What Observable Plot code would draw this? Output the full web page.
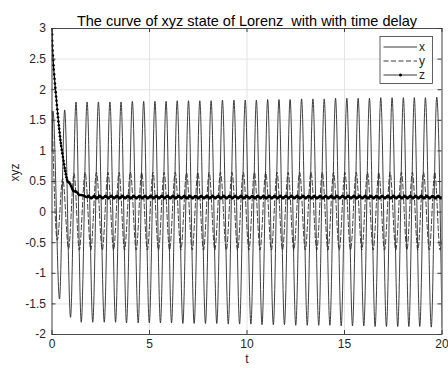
<!DOCTYPE html>
<html><head><meta charset="utf-8">
<script src="https://cdn.jsdelivr.net/npm/d3@7"></script>
<script src="https://cdn.jsdelivr.net/npm/@observablehq/plot@0.6"></script>
<style>body{margin:0;background:#fff}</style>
</head><body><div id="chart"></div>
<script>
const titleText = "The curve of xyz state of Lorenz  with with time delay";
const xLabel = "t";
const yLabel = "xyz";
const xTicks = [0, 5, 10, 15, 20];
const yTicks = [-2, -1.5, -1, -0.5, 0, 0.5, 1, 1.5, 2, 2.5, 3];
const seriesNames = ["x", "y", "z"];

// x(t): turning points [t, value]
const xSeries = [[0,1.0],[0.05,1.65],[0.385,-1.42],[0.65,1.67],[0.95,-1.72],[1.23,1.80],[1.50,-1.80],[1.80,1.80],[2.09,-1.80],[2.38,1.80],[2.68,-1.80],[2.97,1.80],[3.26,-1.80],[3.54,1.80],[3.82,-1.81],[4.12,1.81],[4.42,-1.81],[4.70,1.81],[4.99,-1.81],[5.28,1.81],[5.56,-1.81],[5.85,1.81],[6.13,-1.81],[6.42,1.82],[6.71,-1.82],[7.00,1.82],[7.29,-1.82],[7.58,1.82],[7.87,-1.82],[8.16,1.82],[8.45,-1.82],[8.74,1.83],[9.04,-1.83],[9.33,1.83],[9.62,-1.83],[9.91,1.83],[10.20,-1.83],[10.48,1.83],[10.77,-1.84],[11.06,1.84],[11.35,-1.84],[11.64,1.84],[11.92,-1.84],[12.21,1.84],[12.50,-1.85],[12.80,1.85],[13.09,-1.85],[13.38,1.85],[13.68,-1.85],[13.96,1.85],[14.25,-1.85],[14.54,1.86],[14.83,-1.86],[15.12,1.86],[15.41,-1.86],[15.70,1.86],[15.99,-1.86],[16.28,1.86],[16.57,-1.87],[16.86,1.87],[17.15,-1.87],[17.44,1.87],[17.73,-1.87],[18.02,1.87],[18.30,-1.87],[18.58,1.87],[18.86,-1.87],[19.15,1.87],[19.45,-1.88],[19.73,1.88],[20.00,-1.88]];

// y(t): turning points [t, value]
const ySeries = [[0,1.65],[0.27,-0.46],[0.55,0.55],[0.85,-0.60],[1.13,0.63],[1.40,-0.62],[1.70,0.65],[1.99,-0.62],[2.28,0.65],[2.58,-0.62],[2.87,0.65],[3.16,-0.62],[3.44,0.65],[3.72,-0.62],[4.02,0.65],[4.32,-0.62],[4.60,0.65],[4.89,-0.62],[5.18,0.65],[5.46,-0.62],[5.75,0.65],[6.03,-0.62],[6.32,0.65],[6.61,-0.62],[6.90,0.65],[7.19,-0.62],[7.48,0.65],[7.77,-0.62],[8.06,0.65],[8.35,-0.62],[8.64,0.65],[8.94,-0.62],[9.23,0.65],[9.52,-0.62],[9.81,0.65],[10.10,-0.62],[10.38,0.65],[10.67,-0.62],[10.96,0.65],[11.25,-0.62],[11.54,0.65],[11.82,-0.62],[12.11,0.65],[12.40,-0.62],[12.70,0.65],[12.99,-0.62],[13.28,0.65],[13.58,-0.62],[13.86,0.65],[14.15,-0.62],[14.44,0.65],[14.73,-0.62],[15.02,0.65],[15.31,-0.62],[15.60,0.65],[15.89,-0.62],[16.18,0.65],[16.47,-0.62],[16.76,0.65],[17.05,-0.62],[17.34,0.65],[17.63,-0.62],[17.92,0.65],[18.20,-0.62],[18.48,0.65],[18.76,-0.62],[19.05,0.65],[19.35,-0.62],[19.63,0.65],[19.90,-0.62],[20.00,-0.45]];

// z(t): initial decay [t, value]
const zTransient = [[0,3.00],[0.005,2.90],[0.01,2.80],[0.02,2.72],[0.03,2.64],[0.045,2.56],[0.06,2.48],[0.075,2.40],[0.09,2.33],[0.11,2.25],[0.13,2.18],[0.15,2.10],[0.17,2.03],[0.19,1.96],[0.21,1.89],[0.23,1.82],[0.25,1.75],[0.27,1.68],[0.29,1.61],[0.31,1.55],[0.33,1.48],[0.35,1.42],[0.37,1.36],[0.39,1.30],[0.41,1.24],[0.43,1.18],[0.45,1.13],[0.47,1.08],[0.50,1.02],[0.53,0.96],[0.56,0.90],[0.59,0.84],[0.62,0.78],[0.65,0.72],[0.68,0.67],[0.71,0.62],[0.74,0.57],[0.77,0.53],[0.81,0.50],[0.85,0.49],[0.89,0.48],[0.93,0.46],[0.97,0.43],[1.01,0.40],[1.05,0.37],[1.09,0.35],[1.14,0.34],[1.19,0.34],[1.24,0.33],[1.29,0.32],[1.34,0.30],[1.39,0.28],[1.44,0.28],[1.50,0.28],[1.56,0.275],[1.62,0.27],[1.68,0.26],[1.74,0.25],[1.80,0.245],[1.87,0.26]];

// z(t): small steady ripple [t, value]
const zSteady = [[1.87,0.26],[2.01,0.23],[2.16,0.26],[2.30,0.23],[2.45,0.26],[2.59,0.23],[2.75,0.26],[2.89,0.23],[3.04,0.26],[3.18,0.23],[3.33,0.26],[3.47,0.23],[3.61,0.26],[3.75,0.23],[3.89,0.26],[4.03,0.23],[4.19,0.26],[4.33,0.23],[4.49,0.26],[4.63,0.23],[4.77,0.26],[4.91,0.23],[5.06,0.26],[5.20,0.23],[5.35,0.26],[5.49,0.23],[5.63,0.26],[5.77,0.23],[5.92,0.26],[6.06,0.23],[6.20,0.26],[6.34,0.23],[6.49,0.26],[6.63,0.23],[6.78,0.26],[6.92,0.23],[7.07,0.26],[7.21,0.23],[7.36,0.26],[7.50,0.23],[7.65,0.26],[7.79,0.23],[7.94,0.26],[8.08,0.23],[8.23,0.26],[8.37,0.23],[8.52,0.26],[8.66,0.23],[8.81,0.26],[8.95,0.23],[9.11,0.26],[9.25,0.23],[9.40,0.26],[9.54,0.23],[9.69,0.26],[9.83,0.23],[9.98,0.26],[10.12,0.23],[10.27,0.26],[10.41,0.23],[10.55,0.26],[10.69,0.23],[10.84,0.26],[10.98,0.23],[11.13,0.26],[11.27,0.23],[11.42,0.26],[11.56,0.23],[11.71,0.26],[11.85,0.23],[11.99,0.26],[12.13,0.23],[12.28,0.26],[12.42,0.23],[12.57,0.26],[12.71,0.23],[12.87,0.26],[13.01,0.23],[13.16,0.26],[13.30,0.23],[13.45,0.26],[13.59,0.23],[13.75,0.26],[13.89,0.23],[14.03,0.26],[14.17,0.23],[14.32,0.26],[14.46,0.23],[14.61,0.26],[14.75,0.23],[14.90,0.26],[15.04,0.23],[15.19,0.26],[15.33,0.23],[15.48,0.26],[15.62,0.23],[15.77,0.26],[15.91,0.23],[16.06,0.26],[16.20,0.23],[16.35,0.26],[16.49,0.23],[16.64,0.26],[16.78,0.23],[16.93,0.26],[17.07,0.23],[17.22,0.26],[17.36,0.23],[17.51,0.26],[17.65,0.23],[17.80,0.26],[17.94,0.23],[18.09,0.26],[18.23,0.23],[18.37,0.26],[18.51,0.23],[18.65,0.26],[18.79,0.23],[18.93,0.26],[19.07,0.23],[19.22,0.26],[19.36,0.23],[19.52,0.26],[19.66,0.23],[19.80,0.26],[19.94,0.23],[20.00,0.24]];

const W = 448, H = 368, mL = 51.5, mR = 6.5, mT = 28, mB = 34;
const pw = W - mL - mR, ph = H - mT - mB;
const rows = arr => arr.map(([t, v]) => ({t, v}));
const font = "'Liberation Sans', Arial, Helvetica, sans-serif";
const axisColor = "#3a3a3a";
const gridColor = "#e4e4e4";

const plot = Plot.plot({
  width: W, height: H,
  marginLeft: mL, marginRight: mR, marginTop: mT, marginBottom: mB,
  style: {fontFamily: font, fontSize: "12px", color: "#262626", background: "#fff", overflow: "visible"},
  x: {domain: [0, 20]},
  y: {domain: [-2, 3]},
  marks: [
    Plot.gridX(xTicks, {stroke: gridColor, strokeOpacity: 1}),
    Plot.gridY(yTicks, {stroke: gridColor, strokeOpacity: 1}),
    Plot.line(rows(xSeries), {x: "t", y: "v", stroke: "#2a2a2a", strokeWidth: 0.9, curve: "monotone-x", clip: true}),
    Plot.line(rows(ySeries), {x: "t", y: "v", stroke: "#2a2a2a", strokeWidth: 0.9, strokeDasharray: "5,2.5", curve: "monotone-x", clip: true}),
    Plot.line(rows(zTransient), {x: "t", y: "v", stroke: "#000", strokeWidth: 1.2, clip: true}),
    Plot.dot(rows(zTransient), {x: "t", y: "v", r: 1.3, fill: "#000", stroke: null, clip: true}),
    Plot.line(rows(zSteady), {x: "t", y: "v", stroke: "#000", strokeWidth: 2.6, curve: "monotone-x", clip: true}),
    Plot.dot(rows(zSteady), {x: "t", y: "v", r: 1.6, fill: "#000", stroke: null, clip: true}),
    Plot.frame({stroke: axisColor, strokeWidth: 0.9}),
    Plot.tickX(xTicks, {x: d => d, insetTop: ph - 4, stroke: axisColor}),
    Plot.tickX(xTicks, {x: d => d, insetBottom: ph - 4, stroke: axisColor}),
    Plot.tickY(yTicks, {y: d => d, insetRight: pw - 4, stroke: axisColor}),
    Plot.tickY(yTicks, {y: d => d, insetLeft: pw - 4, stroke: axisColor}),
    Plot.axisX(xTicks, {tickSize: 0, tickPadding: 5, label: null, tickFormat: d => String(d), fontSize: 12}),
    Plot.axisY(yTicks, {tickSize: 0, tickPadding: 6, label: null, tickFormat: d => String(d), fontSize: 12}),
    Plot.text([titleText], {text: d => d, frameAnchor: "top", dy: -13, fontSize: 14.5, fill: "#000"}),
    Plot.text([xLabel], {text: d => d, frameAnchor: "bottom", dy: 28.5, fontSize: 12, fill: "#262626"}),
    Plot.text([yLabel], {text: d => d, frameAnchor: "left", dx: -37, rotate: -90, fontSize: 12, fill: "#262626"})
  ]
});

// legend box (top-right), MATLAB style
const svg = d3.select(plot);
const lg = svg.append("g").attr("font-family", font).attr("font-size", 12).attr("fill", "#262626");
const bx = 380, by = 36.5, bw = 52.5, bh = 47;
lg.append("rect").attr("x", bx).attr("y", by).attr("width", bw).attr("height", bh)
  .attr("fill", "#fff").attr("stroke", axisColor).attr("stroke-width", 0.8);
const styles = [{dash: null, dot: false}, {dash: "5,2.5", dot: false}, {dash: null, dot: true}];
seriesNames.forEach((name, i) => {
  const yy = by + 10.5 + i * 14;
  lg.append("line").attr("x1", bx + 3.5).attr("x2", bx + 37).attr("y1", yy).attr("y2", yy)
    .attr("stroke", "#222").attr("stroke-width", 0.9).attr("stroke-dasharray", styles[i].dash);
  if (styles[i].dot) lg.append("circle").attr("cx", bx + 20.5).attr("cy", yy).attr("r", 1.5).attr("fill", "#000");
  lg.append("text").attr("x", bx + 42).attr("y", yy).attr("dy", "0.35em").text(name);
});

document.getElementById("chart").appendChild(plot);
</script>
</body></html>
